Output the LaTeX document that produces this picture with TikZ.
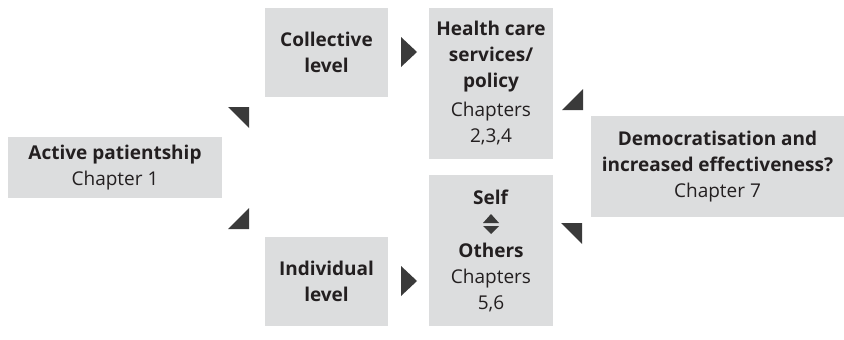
\documentclass[tikz,border=0pt]{standalone}
\usepackage{fontspec}
\setmainfont{Open Sans}
\usetikzlibrary{positioning,calc}
\definecolor{boxgrey}{HTML}{DCDDDE}
\definecolor{tipgrey}{HTML}{3A3A3A}
\definecolor{textgrey}{HTML}{231F20}

\begin{document}
\begin{tikzpicture}[x=1pt,y=-1pt,
  box/.style={fill=boxgrey,inner sep=0pt,align=center,text=textgrey,font=\fontsize{19}{26}\selectfont},
  tip/.style={fill=tipgrey}
]
\useasboundingbox (0,0) rectangle (844,340);

\node[box,minimum width=214pt,minimum height=61pt] (active) at (115,167.5) {\textbf{Active patientship}\\Chapter 1};
\node[box,minimum width=123pt,minimum height=89pt] (coll) at (326.5,52.5) {\textbf{Collective}\\\textbf{level}};
\node[box,minimum width=123pt,minimum height=89pt] (indiv) at (326.5,281.5) {\textbf{Individual}\\\textbf{level}};
\node[box,minimum width=124pt,minimum height=151pt] (health) at (491,83.5) {\textbf{Health care}\\\textbf{services/}\\\textbf{policy}\\[3pt]Chapters\\2,3,4};
\node[box,minimum width=124pt,minimum height=151pt] (self) at (491,250.5) {\textbf{Self}\\[1pt] \\\textbf{Others}\\Chapters\\5,6};
\node[box,minimum width=253pt,minimum height=101pt] (demo) at (717.5,166.5) {\textbf{Democratisation and}\\\textbf{increased effectiveness?}\\Chapter 7};

\fill[tip] (228,107) -- (249,107) -- (249,128) -- cycle;
\fill[tip] (249,208) -- (249,229) -- (228,229) -- cycle;
\fill[tip] (401,37) -- (417,52) -- (401,67) -- cycle;
\fill[tip] (401,266) -- (417,281) -- (401,296) -- cycle;
\fill[tip] (583,89) -- (583,110) -- (562,110) -- cycle;
\fill[tip] (561,223) -- (582,223) -- (582,244) -- cycle;

\fill[tip] (483,223) -- (491,214) -- (499,223) -- cycle;
\fill[tip] (483,226) -- (499,226) -- (491,234) -- cycle;
\end{tikzpicture}
\end{document}
